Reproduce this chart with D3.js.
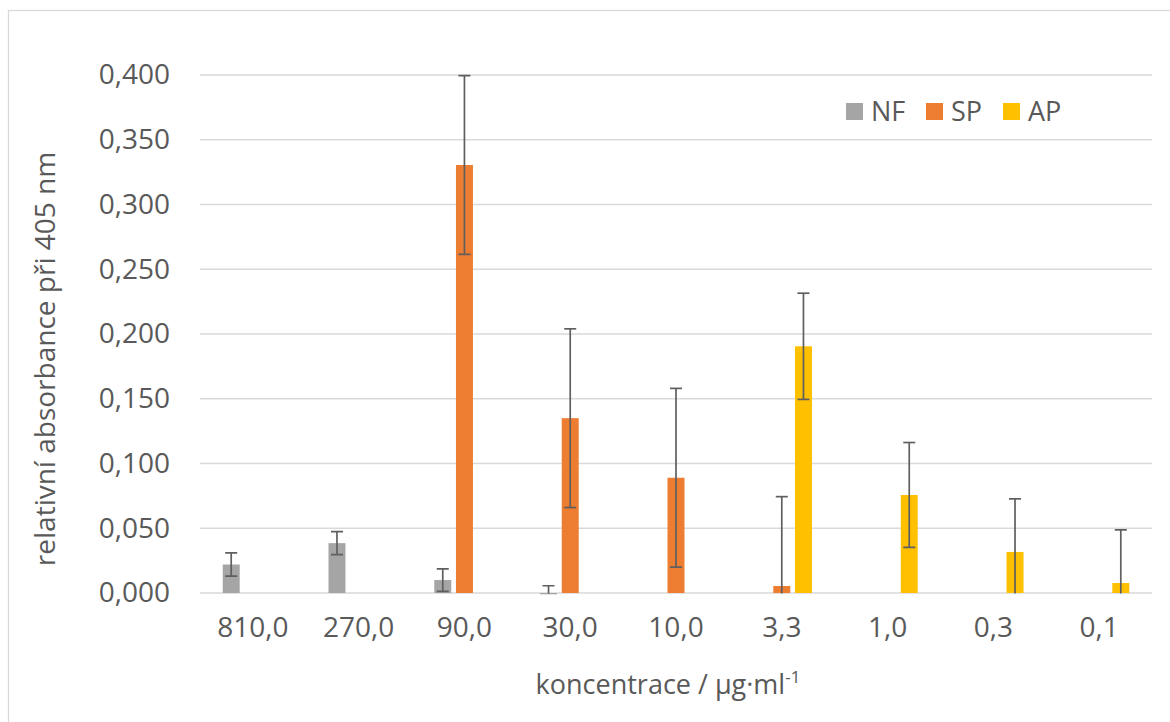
<!DOCTYPE html>
<html>
<head>
<meta charset="utf-8">
<script src="https://cdn.jsdelivr.net/npm/d3@7"></script>
<style>
  html, body { margin: 0; padding: 0; background: #fff; }
  svg { display: block; }
  text { font-family: "Open Sans", "Noto Sans", sans-serif; fill: #595959; }
</style>
</head>
<body>
<svg id="chart" width="1170" height="722"></svg>
<script>
// ---- data ----
const categories = ["810,0", "270,0", "90,0", "30,0", "10,0", "3,3", "1,0", "0,3", "0,1"];
const seriesNames = ["NF", "SP", "AP"];
const seriesColors = ["#A5A5A5", "#ED7D31", "#FFC000"];
const nfValues = [0.022, 0.0385, 0.010, -0.001, null, null, null, null, null];
const nfErrors = [0.009, 0.0089, 0.0087, 0.0066, null, null, null, null, null];
const spValues = [null, null, 0.3305, 0.135, 0.089, 0.0054, null, null, null];
const spErrors = [null, null, 0.069, 0.069, 0.069, 0.069, null, null, null];
const apValues = [null, null, null, null, null, 0.1905, 0.0757, 0.0317, 0.0077];
const apErrors = [null, null, null, null, null, 0.041, 0.0405, 0.041, 0.041];
const yTicks = [0, 0.05, 0.1, 0.15, 0.2, 0.25, 0.3, 0.35, 0.4];
const xTitle = "koncentrace / µg·ml";
const xTitleSup = "-1";
const yTitle = "relativní absorbance při 405 nm";

const seriesValues = [nfValues, spValues, apValues];
const seriesErrors = [nfErrors, spErrors, apErrors];

// ---- layout ----
const svg = d3.select("#chart");
const plot = { left: 200, right: 1152, top: 75, bottom: 593 };
const tickFont = 28;

// outer chart border
svg.append("rect")
  .attr("x", 8.5).attr("y", 10.5)
  .attr("width", 1200).attr("height", 800)
  .attr("fill", "none").attr("stroke", "#D9D9D9").attr("stroke-width", 1.3);

const x0 = d3.scaleBand().domain(categories).range([plot.left, plot.right]).padding(0);
const slot = x0.bandwidth() * 0.205;
const x1 = d3.scaleBand().domain(seriesNames)
  .range([-1.5 * slot, 1.5 * slot])
  .paddingInner(0.217).paddingOuter(0.1085);
const y = d3.scaleLinear().domain([0, 0.4]).range([plot.bottom, plot.top]);

const fmt = v => d3.format(".3f")(v).replace(".", ",");

// gridlines
svg.append("g")
  .selectAll("line").data(yTicks).join("line")
  .attr("x1", plot.left).attr("x2", plot.right)
  .attr("y1", d => y(d)).attr("y2", d => y(d))
  .attr("stroke", "#D9D9D9").attr("stroke-width", 1.3);

// y axis labels via d3 axis
const yAxis = svg.append("g")
  .attr("transform", `translate(${plot.left},0)`)
  .call(d3.axisLeft(y).tickValues(yTicks).tickFormat(fmt).tickSize(0).tickPadding(30));
yAxis.select(".domain").remove();
yAxis.selectAll("text")
  .style("font-family", '"Open Sans", "Noto Sans", sans-serif')
  .style("font-size", tickFont + "px").attr("fill", "#595959");

// x axis labels
const xAxis = svg.append("g")
  .attr("transform", `translate(0,${plot.bottom})`)
  .call(d3.axisBottom(x0).tickSize(0).tickPadding(24));
xAxis.select(".domain").remove();
xAxis.selectAll("text")
  .style("font-family", '"Open Sans", "Noto Sans", sans-serif')
  .style("font-size", tickFont + "px").attr("fill", "#595959");

// clip for error bars
const clipId = "plotclip";
svg.append("clipPath").attr("id", clipId).append("rect")
  .attr("x", plot.left).attr("y", plot.top - 5)
  .attr("width", plot.right - plot.left).attr("height", plot.bottom - plot.top + 5.5);

// bars
seriesNames.forEach((s, si) => {
  const data = categories.map((c, i) => ({ c, v: seriesValues[si][i], e: seriesErrors[si][i] }))
    .filter(d => d.v !== null);
  svg.append("g").selectAll("rect").data(data).join("rect")
    .attr("x", d => x0(d.c) + x0.bandwidth() / 2 + x1(s))
    .attr("width", x1.bandwidth())
    .attr("y", d => Math.min(y(d.v), y(0)))
    .attr("height", d => Math.abs(y(d.v) - y(0)))
    .attr("fill", seriesColors[si]);
});

// error bars
seriesNames.forEach((s, si) => {
  const data = categories.map((c, i) => ({ c, v: seriesValues[si][i], e: seriesErrors[si][i] }))
    .filter(d => d.v !== null);
  const g = svg.append("g").attr("clip-path", `url(#${clipId})`)
    .attr("stroke", "#5F5F5F").attr("stroke-width", 1.7);
  const cx = d => x0(d.c) + x0.bandwidth() / 2 + x1(s) + x1.bandwidth() / 2;
  g.selectAll(".ev").data(data).join("line").attr("class", "ev")
    .attr("x1", cx).attr("x2", cx)
    .attr("y1", d => y(d.v + d.e)).attr("y2", d => y(d.v - d.e));
  g.selectAll(".et").data(data).join("line").attr("class", "et")
    .attr("x1", d => cx(d) - 6).attr("x2", d => cx(d) + 6)
    .attr("y1", d => y(d.v + d.e)).attr("y2", d => y(d.v + d.e));
  g.selectAll(".eb").data(data).join("line").attr("class", "eb")
    .attr("x1", d => cx(d) - 6).attr("x2", d => cx(d) + 6)
    .attr("y1", d => y(d.v - d.e)).attr("y2", d => y(d.v - d.e));
});

// axis titles
const xt = svg.append("text")
  .attr("x", (plot.left + plot.right) / 2 - 8).attr("y", 694)
  .attr("text-anchor", "middle")
  .style("font-size", "27px");
xt.append("tspan").text(xTitle);
xt.append("tspan").text(xTitleSup).attr("dy", -11).style("font-size", "17px");

svg.append("text")
  .attr("transform", `translate(55,${(plot.top + plot.bottom) / 2 + 25}) rotate(-90)`)
  .attr("text-anchor", "middle")
  .style("font-size", tickFont + "px")
  .text(yTitle);

// legend
const legendX = [846, 926, 1003];
const lg = svg.append("g");
seriesNames.forEach((s, si) => {
  lg.append("rect").attr("x", legendX[si]).attr("y", 103).attr("width", 17).attr("height", 17)
    .attr("fill", seriesColors[si]);
  lg.append("text").attr("x", legendX[si] + 25).attr("y", 121)
    .style("font-size", "27px").text(s);
});
</script>
</body>
</html>
